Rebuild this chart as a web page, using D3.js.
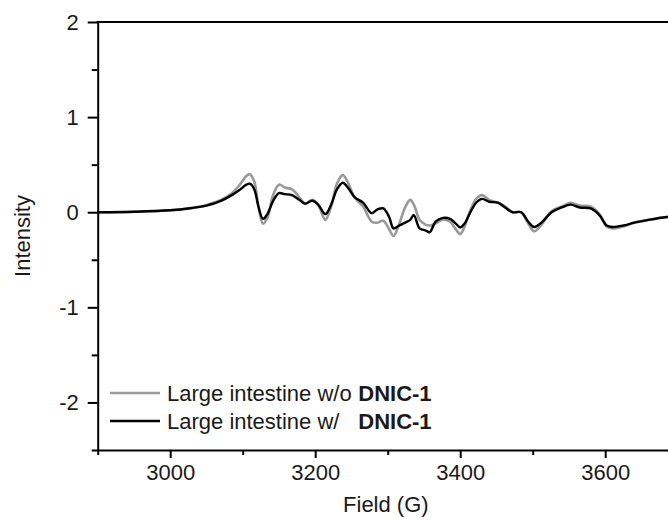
<!DOCTYPE html>
<html><head><meta charset="utf-8">
<script src="https://cdn.jsdelivr.net/npm/d3@7"></script>
<style>body{margin:0;background:#fff}svg{display:block}</style>
</head><body>
<svg id="c" width="668" height="519"></svg>
<script>
const field = [2900,2950,3000,3030,3050,3070,3085,3095,3105,3110,3116,3122,3128,3134,3142,3150,3158,3168,3178,3186,3196,3204,3214,3222,3230,3238,3246,3254,3266,3278,3286,3294,3302,3308,3316,3324,3331,3336,3344,3352,3358,3366,3376,3386,3394,3400,3406,3414,3422,3430,3440,3452,3462,3472,3484,3494,3502,3512,3526,3540,3552,3565,3580,3592,3602,3610,3625,3640,3660,3685,3700];
const withoutDNIC = [0,0.005,0.02,0.045,0.075,0.13,0.2,0.28,0.38,0.40,0.32,0.05,-0.12,-0.06,0.18,0.29,0.26,0.24,0.16,0.09,0.13,0.08,-0.08,0.06,0.30,0.39,0.30,0.16,0.06,-0.10,-0.11,-0.09,-0.18,-0.25,-0.12,0.05,0.13,0.08,-0.08,-0.13,-0.14,-0.12,-0.08,-0.10,-0.18,-0.23,-0.15,0.02,0.14,0.18,0.13,0.10,0.06,0.0,0.0,-0.12,-0.20,-0.13,0.01,0.06,0.10,0.07,0.06,-0.02,-0.15,-0.17,-0.15,-0.11,-0.08,-0.05,-0.04];
const withDNIC = [0,0.005,0.02,0.045,0.07,0.12,0.18,0.23,0.29,0.30,0.24,0.05,-0.07,-0.02,0.12,0.20,0.19,0.18,0.13,0.09,0.12,0.08,-0.02,0.08,0.24,0.31,0.25,0.16,0.10,-0.01,0.03,0.04,-0.05,-0.17,-0.14,-0.11,-0.08,-0.03,-0.17,-0.19,-0.21,-0.10,-0.06,-0.07,-0.12,-0.16,-0.12,0.0,0.10,0.14,0.11,0.10,0.05,0.0,0.0,-0.10,-0.155,-0.11,0.0,0.05,0.08,0.05,0.04,-0.03,-0.14,-0.155,-0.14,-0.11,-0.08,-0.05,-0.04];
const seriesNames = ["Large intestine w/o", "Large intestine w/"];
const seriesBold = "DNIC-1";
const xTicks = [3000,3200,3400,3600];
const xMinor = [2900,3100,3300,3500,3700];
const yTicks = [-2,-1,0,1,2];
const yMinor = [-2.5,-1.5,-0.5,0.5,1.5];

const svg = d3.select("#c");
const L = 97.7, T = 22, B = 450;
const x = d3.scaleLinear().domain([2900,3700]).range([L, L + 800*0.725]);
const y = d3.scaleLinear().domain([-2.5,2]).range([B, T]);
const font = "'Liberation Sans', Arial, sans-serif";
const fs = 22;
const txt = "#1a1a1a";

// series
const line = d3.line().x((d,i)=>x(field[i])).y(d=>y(d)).curve(d3.curveCatmullRom.alpha(0.5));
svg.append("path").datum(withoutDNIC).attr("d", line).attr("fill","none").attr("stroke","#999").attr("stroke-width",2.6);
svg.append("path").datum(withDNIC).attr("d", line).attr("fill","none").attr("stroke","#000").attr("stroke-width",2.4);

// axes
function styleAxis(g){
  g.select(".domain").attr("stroke","#000").attr("stroke-width",2);
  g.selectAll(".tick line").attr("stroke","#000").attr("stroke-width",2);
  g.selectAll("text").attr("font-family",font).attr("font-size",fs).attr("fill",txt);
}
const xAxis = svg.append("g").attr("transform",`translate(0,${B})`)
  .call(d3.axisBottom(x).tickValues(xTicks).tickFormat(d3.format("d")).tickSizeInner(8).tickSizeOuter(0).tickPadding(6));
styleAxis(xAxis);
const xAxisMinor = svg.append("g").attr("transform",`translate(0,${B})`)
  .call(d3.axisBottom(x).tickValues(xMinor).tickFormat("").tickSize(5));
styleAxis(xAxisMinor);
xAxisMinor.select(".domain").remove();

const yAxis = svg.append("g").attr("transform",`translate(${L},0)`)
  .call(d3.axisLeft(y).tickValues(yTicks).tickFormat(d3.format("d")).tickSizeInner(10).tickSizeOuter(0).tickPadding(9));
styleAxis(yAxis);
yAxis.selectAll("text").text(d=> d<0 ? "-"+Math.abs(d) : d);
const yAxisMinor = svg.append("g").attr("transform",`translate(${L},0)`)
  .call(d3.axisLeft(y).tickValues(yMinor).tickFormat("").tickSize(6));
styleAxis(yAxisMinor);
yAxisMinor.select(".domain").remove();

// top frame
svg.append("line").attr("x1",L-1).attr("x2",700).attr("y1",y(2)).attr("y2",y(2)).attr("stroke","#000").attr("stroke-width",2);

// titles
svg.append("text").attr("x",(L+668)/2+3).attr("y",512).attr("text-anchor","middle")
  .attr("font-family",font).attr("font-size",fs).attr("fill",txt).text("Field (G)");
svg.append("text").attr("transform",`translate(30,${(T+B)/2}) rotate(-90)`).attr("text-anchor","middle")
  .attr("font-family",font).attr("font-size",fs).attr("fill",txt).text("Intensity");

// legend
const legY = [393, 421];
const legColors = ["#999","#000"];
const legTexts = seriesNames.map((n,i)=>{
  svg.append("line").attr("x1",110).attr("x2",160).attr("y1",legY[i]).attr("y2",legY[i]).attr("stroke",legColors[i]).attr("stroke-width",2.4);
  const t = svg.append("text").attr("x",167).attr("y",legY[i]+8).attr("font-family",font).attr("font-size",fs).attr("fill",txt);
  t.append("tspan").text(n);
  return t;
});
const boldX = 167 + legTexts[0].node().getComputedTextLength() + fs*0.3;
legTexts.forEach(t=> t.append("tspan").attr("x", boldX).attr("font-weight","bold").text(seriesBold));
</script>
</body></html>
